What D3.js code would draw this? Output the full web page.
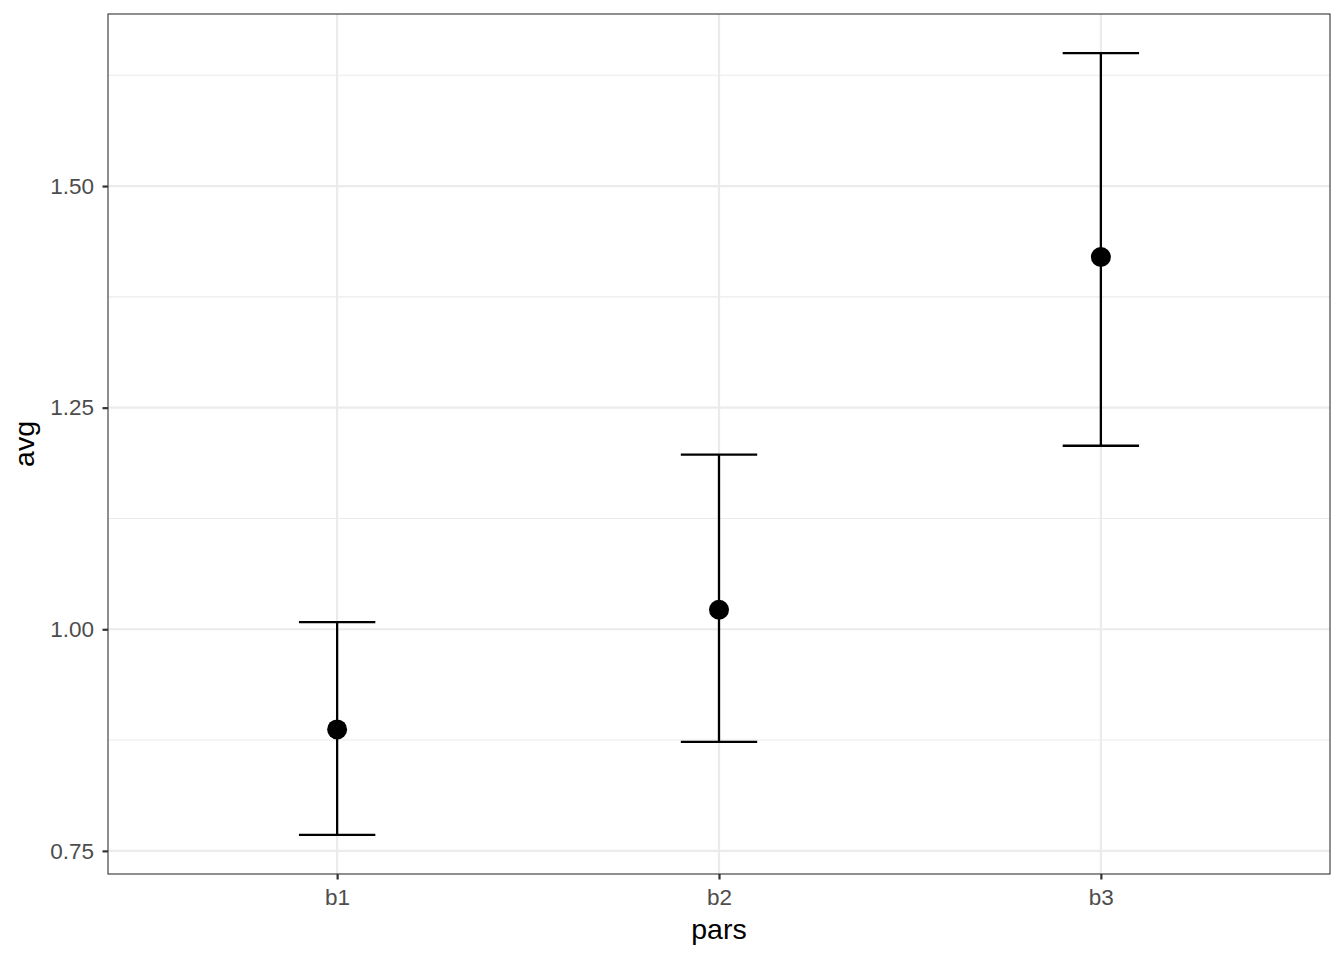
<!DOCTYPE html>
<html lang="en">
<head>
  <meta charset="UTF-8">
  <title>avg by pars</title>
  <script src="https://d3js.org/d3.v7.min.js"></script>
  <style>
    body { margin: 0; background: #fff; }
    text { font-family: "Liberation Sans", Arial, sans-serif; }
  </style>
</head>
<body>
  <svg width="1344" height="960"></svg>

  <script>
    // Data
    const pars = ["b1", "b2", "b3"];
    const avg = [0.887, 1.022, 1.420];
    const lower = [0.768, 0.873, 1.207];
    const upper = [1.008, 1.197, 1.650];
    const yTicks = [0.75, 1.00, 1.25, 1.50];
    const yMinor = [0.875, 1.125, 1.375, 1.625];

    const data = pars.map((p, i) => ({ par: p, avg: avg[i], lo: lower[i], hi: upper[i] }));

    // Panel box
    const panel = { left: 108, top: 14, right: 1330, bottom: 874 };

    const svg = d3.select("svg");

    // ggplot style expansion: 5% continuous, 0.6 units discrete
    const yMin = d3.min(lower), yMax = d3.max(upper);
    const pad = (yMax - yMin) * 0.05;
    const yScale = d3.scaleLinear()
      .domain([yMin - pad, yMax + pad])
      .range([panel.bottom, panel.top]);

    const xScale = d3.scaleLinear()
      .domain([0.4, pars.length + 0.6])
      .range([panel.left, panel.right]);
    const xPos = p => xScale(pars.indexOf(p) + 1);

    const g = svg.append("g");

    // grid
    g.selectAll(".minor")
      .data(yMinor)
      .enter().append("line")
      .attr("x1", panel.left).attr("x2", panel.right)
      .attr("y1", d => yScale(d)).attr("y2", d => yScale(d))
      .attr("stroke", "#ebebeb").attr("stroke-width", 1.1);

    g.selectAll(".major")
      .data(yTicks)
      .enter().append("line")
      .attr("x1", panel.left).attr("x2", panel.right)
      .attr("y1", d => yScale(d)).attr("y2", d => yScale(d))
      .attr("stroke", "#ebebeb").attr("stroke-width", 2.2);

    g.selectAll(".xgrid")
      .data(pars)
      .enter().append("line")
      .attr("x1", xPos).attr("x2", xPos)
      .attr("y1", panel.top).attr("y2", panel.bottom)
      .attr("stroke", "#ebebeb").attr("stroke-width", 2.2);

    // error bars
    const capHalf = (xScale(1.1) - xScale(0.9)) / 2;
    const bars = g.selectAll(".err").data(data).enter().append("g");
    bars.append("line")
      .attr("x1", d => xPos(d.par)).attr("x2", d => xPos(d.par))
      .attr("y1", d => yScale(d.lo)).attr("y2", d => yScale(d.hi))
      .attr("stroke", "#000").attr("stroke-width", 2.3);
    bars.append("line")
      .attr("x1", d => xPos(d.par) - capHalf).attr("x2", d => xPos(d.par) + capHalf)
      .attr("y1", d => yScale(d.lo)).attr("y2", d => yScale(d.lo))
      .attr("stroke", "#000").attr("stroke-width", 2.3);
    bars.append("line")
      .attr("x1", d => xPos(d.par) - capHalf).attr("x2", d => xPos(d.par) + capHalf)
      .attr("y1", d => yScale(d.hi)).attr("y2", d => yScale(d.hi))
      .attr("stroke", "#000").attr("stroke-width", 2.3);

    // points
    g.selectAll(".pt")
      .data(data)
      .enter().append("circle")
      .attr("cx", d => xPos(d.par))
      .attr("cy", d => yScale(d.avg))
      .attr("r", 10)
      .attr("fill", "#000");

    // panel border
    svg.append("rect")
      .attr("x", panel.left).attr("y", panel.top)
      .attr("width", panel.right - panel.left).attr("height", panel.bottom - panel.top)
      .attr("fill", "none").attr("stroke", "#333").attr("stroke-width", 1.1);

    // axes
    const yAxis = d3.axisLeft(yScale)
      .tickValues(yTicks)
      .tickFormat(d3.format(".2f"))
      .tickSize(5.5).tickPadding(8.5);
    const yG = svg.append("g")
      .attr("transform", `translate(${panel.left},0)`)
      .call(yAxis);
    yG.select(".domain").remove();
    yG.selectAll(".tick line").attr("stroke", "#333").attr("stroke-width", 2.2);
    yG.selectAll(".tick text").attr("fill", "#4d4d4d").style("font-size", "22.5px");

    const xAxis = d3.axisBottom(xScale)
      .tickValues(pars.map((p, i) => i + 1))
      .tickFormat(d => pars[d - 1])
      .tickSize(5.5).tickPadding(9.5);
    const xG = svg.append("g")
      .attr("transform", `translate(0,${panel.bottom})`)
      .call(xAxis);
    xG.select(".domain").remove();
    xG.selectAll(".tick line").attr("stroke", "#333").attr("stroke-width", 2.2);
    xG.selectAll(".tick text").attr("fill", "#4d4d4d").style("font-size", "22.5px");

    // axis titles
    svg.append("text")
      .attr("x", (panel.left + panel.right) / 2)
      .attr("y", 939)
      .attr("text-anchor", "middle")
      .style("font-size", "28.5px")
      .attr("fill", "#000")
      .text("pars");

    svg.append("text")
      .attr("transform", `translate(34,${(panel.top + panel.bottom) / 2}) rotate(-90)`)
      .attr("text-anchor", "middle")
      .style("font-size", "28.5px")
      .attr("fill", "#000")
      .text("avg");
  </script>
</body>
</html>
